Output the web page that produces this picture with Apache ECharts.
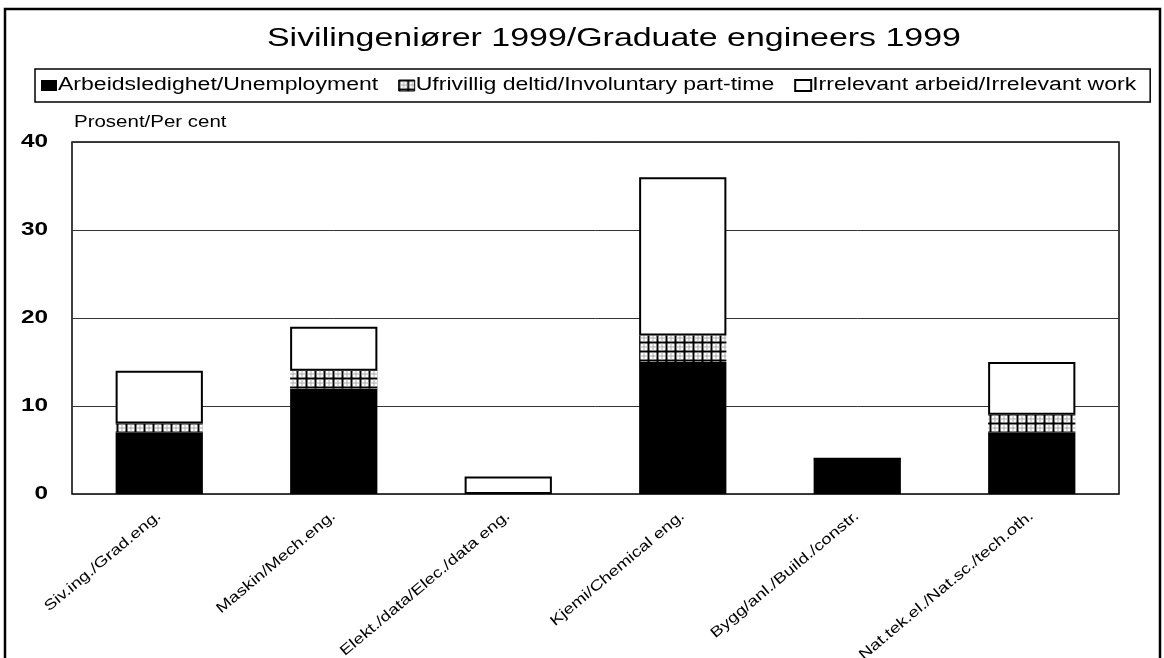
<!DOCTYPE html>
<html>
<head>
<meta charset="utf-8">
<script src="https://cdn.jsdelivr.net/npm/echarts@6/dist/echarts.min.js"></script>
<style>
  html, body { margin: 0; padding: 0; background: #fff; }
  #chart { width: 1164px; height: 658px; }
</style>
</head>
<body>
<div id="chart"></div>
<script>
const categories = ['Siv.ing./Grad.eng.', 'Maskin/Mech.eng.', 'Elekt./data/Elec./data eng.', 'Kjemi/Chemical eng.', 'Bygg/anl./Build./constr.', 'Nat.tek.el./Nat.sc./tech.oth.']
const unemployment = [7, 12, 0, 15, 4, 7]
const partTime = [1, 2, 0, 3, 0, 2]
const irrelevant = [6, 5, 2, 18, 0, 6]
const yTicks = [0, 10, 20, 30, 40]

const font = '"Liberation Sans", Arial, sans-serif'

// the original picture has horizontally stretched lettering: widen glyphs on the canvas
const STRETCH = 1.28
const proto = CanvasRenderingContext2D.prototype
const origFill = proto.fillText
const origMeasure = proto.measureText
proto.fillText = function (text, x, y) {
  this.save()
  this.translate(x, y)
  this.scale(STRETCH, 1)
  origFill.call(this, text, 0, 0)
  this.restore()
}
proto.measureText = function (text) {
  const m = origMeasure.call(this, text)
  return {
    width: m.width * STRETCH,
    actualBoundingBoxLeft: m.actualBoundingBoxLeft * STRETCH,
    actualBoundingBoxRight: m.actualBoundingBoxRight * STRETCH,
    actualBoundingBoxAscent: m.actualBoundingBoxAscent,
    actualBoundingBoxDescent: m.actualBoundingBoxDescent,
    fontBoundingBoxAscent: m.fontBoundingBoxAscent,
    fontBoundingBoxDescent: m.fontBoundingBoxDescent
  }
}

// grid-like hatch used for "Ufrivillig deltid"
function makeGrid () {
  const c = document.createElement('canvas')
  c.width = 9
  c.height = 9
  const g = c.getContext('2d')
  g.fillStyle = '#000'
  g.fillRect(0, 0, 9, 9)
  g.fillStyle = '#fff'
  g.fillRect(1.5, 1.5, 7, 7)
  g.fillStyle = '#aaa'
  g.fillRect(4.5, 1.5, 1, 7)
  g.fillRect(1.5, 4.5, 7, 1)
  return c
}

const chart = echarts.init(document.getElementById('chart'))
const option = {
  animation: false,
  backgroundColor: '#fff',
  textStyle: { fontFamily: font, color: '#000' },
  title: {
    text: 'Sivilingeniører 1999/Graduate engineers 1999',
    left: 262,
    top: 16,
    textStyle: { fontFamily: font, fontSize: 26.5, fontWeight: 'normal', color: '#000' }
  },
  legend: {
    left: 35,
    top: 69,
    padding: [5, 14, 5, 6],
    borderColor: '#000',
    borderWidth: 1.5,
    itemGap: 20,
    itemWidth: 16,
    itemHeight: 11,
    icon: 'rect',
    textStyle: { fontFamily: font, fontSize: 18, color: '#000', padding: [0, 0, 0, -4] },
    data: [
      { name: 'Arbeidsledighet/Unemployment' },
      { name: 'Ufrivillig deltid/Involuntary part-time', itemStyle: { borderColor: '#000', borderWidth: 1 } },
      { name: 'Irrelevant arbeid/Irrelevant work' }
    ]
  },
  grid: {
    left: 72,
    right: 45,
    top: 142,
    bottom: 164,
    outerBoundsMode: 'none',
    show: true,
    borderColor: '#000',
    borderWidth: 1.5
  },
  xAxis: {
    type: 'category',
    data: categories,
    axisLine: { show: false },
    axisTick: { show: false },
    axisLabel: { rotate: 40, margin: 20, fontSize: 14.5, color: '#000', fontFamily: font, interval: 0 }
  },
  yAxis: {
    type: 'value',
    min: yTicks[0],
    max: yTicks[yTicks.length - 1],
    interval: 10,
    name: 'Prosent/Per cent',
    nameLocation: 'end',
    nameGap: 9,
    nameTextStyle: { align: 'left', fontSize: 16, color: '#000', fontFamily: font, padding: [0, 0, 0, 2] },
    axisLine: { show: false },
    axisTick: { show: false },
    axisLabel: { margin: 24, fontSize: 19, fontWeight: 'bold', color: '#000', fontFamily: font },
    splitLine: { lineStyle: { color: '#333', width: 1 } }
  },
  series: [
    {
      name: 'Arbeidsledighet/Unemployment',
      type: 'bar',
      stack: 'total',
      barWidth: '50%',
      itemStyle: { color: '#000' },
      data: unemployment
    },
    {
      name: 'Ufrivillig deltid/Involuntary part-time',
      type: 'bar',
      stack: 'total',
      itemStyle: { color: { image: makeGrid(), repeat: 'repeat' } },
      data: partTime
    },
    {
      name: 'Irrelevant arbeid/Irrelevant work',
      type: 'bar',
      stack: 'total',
      itemStyle: { color: '#fff', borderColor: '#000', borderWidth: 2 },
      data: irrelevant
    }
  ],
  graphic: [
    {
      type: 'rect',
      shape: { x: 5, y: 9, width: 1155, height: 700 },
      style: { fill: null, stroke: '#000', lineWidth: 2.5 },
      silent: true
    }
  ]
}
chart.setOption(option)
</script>
</body>
</html>
